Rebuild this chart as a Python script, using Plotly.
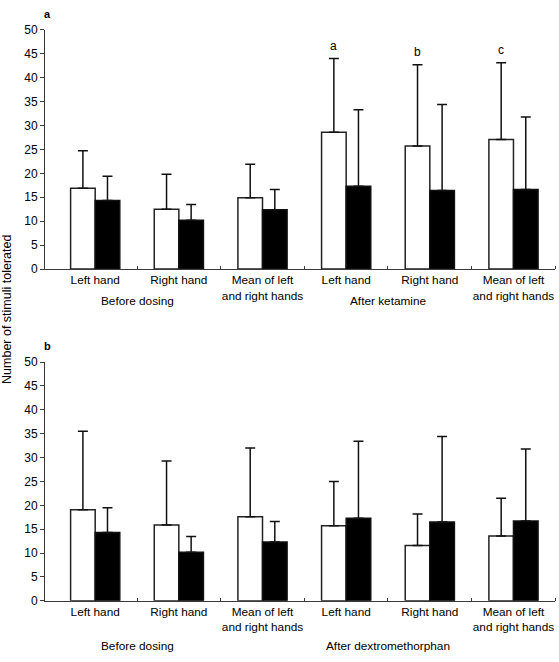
import plotly.graph_objects as go

W, H = 559, 662

categories = ["Left hand", "Right hand", "Mean of left<br>and right hands",
              "Left hand", "Right hand", "Mean of left<br>and right hands"]
groups_a = ["Before dosing", "After ketamine"]
groups_b = ["Before dosing", "After dextromethorphan"]

# Panel a (ketamine)
a_white = [16.9, 12.5, 14.9, 28.6, 25.7, 27.1]
a_white_err = [7.8, 7.3, 7.0, 15.4, 17.0, 16.0]
a_black = [14.3, 10.2, 12.4, 17.3, 16.4, 16.6]
a_black_err = [5.1, 3.3, 4.2, 16.0, 18.0, 15.2]
a_marks = ["", "", "", "a", "b", "c"]

# Panel b (dextromethorphan)
b_white = [19.1, 15.9, 17.6, 15.7, 11.6, 13.6]
b_white_err = [16.4, 13.4, 14.4, 9.3, 6.6, 7.9]
b_black = [14.3, 10.2, 12.3, 17.3, 16.5, 16.7]
b_black_err = [5.2, 3.3, 4.3, 16.1, 17.9, 15.1]

yticks = list(range(0, 51, 5))

FONT = "Liberation Sans, Arial, sans-serif"
AX = "#3a3a3a"
x = list(range(len(categories)))
BW = 0.294

def py(p):
    return 1 - p / H

fig = go.Figure()

panels = [
    ("x", "y", a_white, a_white_err, a_black, a_black_err),
    ("x2", "y2", b_white, b_white_err, b_black, b_black_err),
]
for xa, ya, wv, we, bv, be in panels:
    fig.add_trace(go.Bar(
        x=x, y=wv, width=BW, offset=-BW, xaxis=xa, yaxis=ya,
        marker=dict(color="white", line=dict(color="#222", width=1.5)),
        error_y=dict(type="data", array=we, arrayminus=[0] * len(we), symmetric=False,
                     color="#111", thickness=1.5, width=5),
        showlegend=False, hoverinfo="skip"))
    fig.add_trace(go.Bar(
        x=x, y=bv, width=BW, offset=0, xaxis=xa, yaxis=ya,
        marker=dict(color="black", line=dict(color="#111", width=1.5)),
        error_y=dict(type="data", array=be, arrayminus=[0] * len(be), symmetric=False,
                     color="#111", thickness=1.5, width=5),
        showlegend=False, hoverinfo="skip"))

xdom = [45 / W, 555.3 / W]
common_x = dict(range=[-0.6, 5.5], tickmode="array", tickvals=x, ticktext=categories,
                ticks="", showline=True, linecolor=AX, linewidth=1, showgrid=False,
                zeroline=False, tickfont=dict(family=FONT, size=11.8, color="black"),
                minor=dict(tickmode="array", tickvals=[0.5, 1.5, 2.5, 3.5, 4.5, 5.5],
                           ticks="inside", ticklen=3, tickcolor=AX, tickwidth=1),
                fixedrange=True)
common_y = dict(range=[0, 50], tickmode="array", tickvals=yticks, ticks="outside",
                ticklen=4, tickcolor=AX, showline=True, linecolor=AX, linewidth=1,
                showgrid=False, zeroline=False,
                tickfont=dict(family=FONT, size=12, color="black"), fixedrange=True)

fig.update_layout(
    width=W, height=H, margin=dict(l=0, r=0, t=0, b=0),
    paper_bgcolor="white", plot_bgcolor="white",
    font=dict(family=FONT, color="black"),
    xaxis=dict(domain=xdom, anchor="y", **common_x),
    yaxis=dict(domain=[py(267.7), py(23.3)], anchor="x", **common_y),
    xaxis2=dict(domain=xdom, anchor="y2", **common_x),
    yaxis2=dict(domain=[py(606.7), py(362.7)], anchor="x2", **common_y),
)

ann = []
# significance marks above white bars in panel a
for i, m in enumerate(a_marks):
    if m:
        ann.append(dict(x=i - BW / 2, y=a_white[i] + a_white_err[i] + 0.8, xref="x", yref="y",
                        text=m, showarrow=False, yanchor="bottom",
                        font=dict(family=FONT, size=12)))
# group labels
for j, g in enumerate(groups_a):
    ann.append(dict(x=0.5 + 3 * j, y=py(300), xref="x", yref="paper", text=g,
                    showarrow=False, yanchor="middle", font=dict(family=FONT, size=11.8)))
for j, g in enumerate(groups_b):
    ann.append(dict(x=0.5 + 3 * j, y=py(653), xref="x2", yref="paper", text=g,
                    showarrow=False, yanchor="middle", font=dict(family=FONT, size=11.8)))
# panel letters
ann.append(dict(x=47.7 / W, y=py(7.5), xref="paper", yref="paper", text="<b>a</b>",
                showarrow=False, yanchor="middle", xanchor="center", font=dict(family=FONT, size=11)))
ann.append(dict(x=47.7 / W, y=py(346), xref="paper", yref="paper", text="<b>b</b>",
                showarrow=False, yanchor="middle", xanchor="center", font=dict(family=FONT, size=11)))
# y title
ann.append(dict(x=7.5 / W, y=py(309), xref="paper", yref="paper", text="Number of stimuli tolerated",
                showarrow=False, textangle=-90, xanchor="center", yanchor="middle",
                font=dict(family=FONT, size=12.5)))
fig.update_layout(annotations=ann)

fig.write_html("out.html", config={"displayModeBar": False},
               post_script="document.body.style.margin='0';document.body.style.overflow='hidden';")
